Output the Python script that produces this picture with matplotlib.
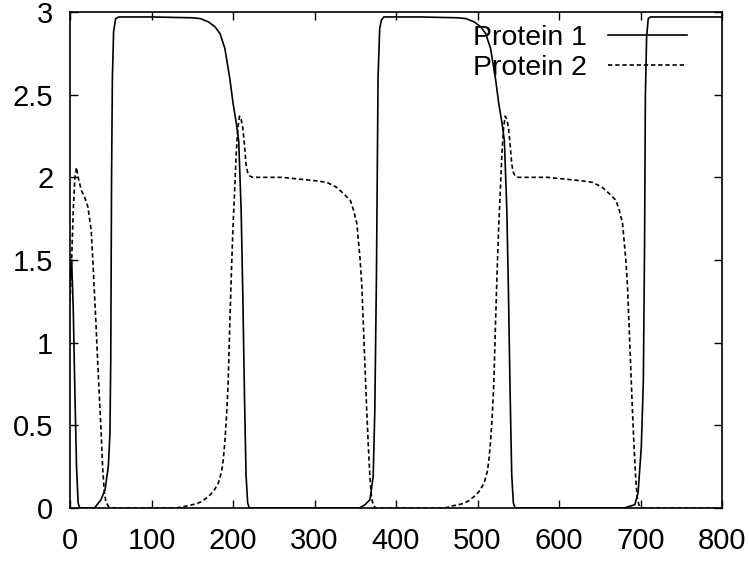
import matplotlib
matplotlib.use("Agg")
import matplotlib.pyplot as plt

# time points and values
t1 = [0, 2, 4, 6, 8, 10, 12, 30, 38, 43, 47, 49, 50, 51, 52, 53.5, 56, 60,
      100, 150, 160, 170, 178, 184, 190, 196, 200, 204, 207, 210, 212, 214,
      216, 218, 220, 355, 362, 368, 372, 374, 376, 378, 380, 382, 385,
      430, 476, 486, 496, 504, 510, 516, 522, 526, 530, 533, 536, 538, 540,
      542, 544, 546, 680, 693, 697, 701, 703.5, 705, 706, 707.5, 709.5, 712,
      760, 800]
p1 = [1.35, 1.5, 1.2, 0.7, 0.25, 0.03, 0.0, 0.0, 0.05, 0.11, 0.25, 0.45, 0.9,
      2.0, 2.6, 2.88, 2.96, 2.97,
      2.97, 2.965, 2.96, 2.94, 2.91, 2.87, 2.78, 2.6, 2.45, 2.33, 2.22, 1.8,
      1.3, 0.7, 0.2, 0.03, 0.0, 0.0, 0.02, 0.05, 0.19, 0.59, 1.4, 2.61, 2.9,
      2.95, 2.97,
      2.97, 2.965, 2.96, 2.94, 2.91, 2.87, 2.78, 2.6, 2.45, 2.33, 2.22, 1.8,
      1.3, 0.7, 0.2, 0.03, 0.0, 0.0, 0.02, 0.09, 0.37, 0.77, 1.6, 2.5, 2.85,
      2.96, 2.97,
      2.97, 2.97]

t2 = [0, 2, 4, 6, 8, 10, 14, 18, 22, 26, 28, 30, 32, 34, 36, 38, 40, 42, 44,
      47, 50, 130, 141, 155, 162, 170, 176, 182, 186, 188, 190, 192, 194, 196,
      198, 200, 202, 204, 206, 208, 210, 212, 214, 216, 218, 220, 224, 260,
      300, 315, 327, 336, 344, 348, 352, 356, 358, 360, 362, 364, 366, 368,
      370, 372, 375, 460, 467, 481, 488, 496, 502, 508, 512, 514, 516, 518,
      520, 522, 524, 526, 528, 530, 532, 534, 536, 538, 540, 542, 544, 546,
      550, 586, 626, 641, 653, 662, 670, 674, 678, 682, 684, 686, 688, 690,
      692, 694, 696, 698, 701, 800]
p2 = [1.25, 1.5, 1.8, 2.0, 2.06, 2.0, 1.92, 1.88, 1.82, 1.68, 1.5, 1.3, 1.1,
      0.88, 0.68, 0.48, 0.25, 0.1, 0.04, 0.01, 0.0, 0.0, 0.01, 0.025, 0.04,
      0.07, 0.1, 0.15, 0.22, 0.29, 0.4, 0.55, 0.75, 1.1, 1.42, 1.7, 1.92, 2.15,
      2.3, 2.37, 2.35, 2.3, 2.2, 2.08, 2.03, 2.01, 2.0, 2.0, 1.98, 1.97, 1.94,
      1.9, 1.86, 1.8, 1.72, 1.5, 1.35, 1.1, 0.85, 0.6, 0.38, 0.19, 0.06, 0.02,
      0.0, 0.0, 0.01, 0.025, 0.04, 0.07, 0.1, 0.15, 0.22, 0.29, 0.4, 0.55,
      0.75, 1.1, 1.42, 1.7, 1.92, 2.15, 2.3, 2.37, 2.35, 2.3, 2.2, 2.08, 2.03,
      2.01, 2.0, 2.0, 1.98, 1.97, 1.94, 1.9, 1.86, 1.8, 1.72, 1.5, 1.35, 1.1,
      0.85, 0.6, 0.38, 0.19, 0.06, 0.02, 0.0, 0.0]

xticks = [0, 100, 200, 300, 400, 500, 600, 700, 800]
yticks = [0, 0.5, 1, 1.5, 2, 2.5, 3]
ytick_labels = ["0", "0.5", "1", "1.5", "2", "2.5", "3"]

plt.rcParams["font.family"] = ["Liberation Sans", "DejaVu Sans"]

fig = plt.figure(figsize=(7.49, 5.63), dpi=100)
ax = fig.add_axes([70 / 749, 55 / 563, 652 / 749, 496 / 563])

ax.plot(t1, p1, color="black", lw=1.2, label="Protein 1")
ax.plot(t2, p2, color="black", lw=1.2, dashes=(2.6, 1.7), label="Protein 2")

ax.set_xlim(0, 800)
ax.set_ylim(0, 3)
ax.set_xticks(xticks)
ax.set_xticklabels([str(v) for v in xticks])
ax.set_yticks(yticks)
ax.set_yticklabels(ytick_labels)
ax.tick_params(direction="in", length=5.8, width=1.0, top=True, right=True,
               labelsize=21)
ax.tick_params(axis="x", pad=14)
ax.tick_params(axis="y", pad=12)
for s in ax.spines.values():
    s.set_linewidth(1.2)

ax.legend(loc="upper right", bbox_to_anchor=(0.946, 0.973), frameon=False,
          markerfirst=False, fontsize=20.5, handlelength=2.75,
          handletextpad=0.75, labelspacing=0.12, borderpad=0.0,
          borderaxespad=0.0)

fig.savefig("out.png", dpi=100)
